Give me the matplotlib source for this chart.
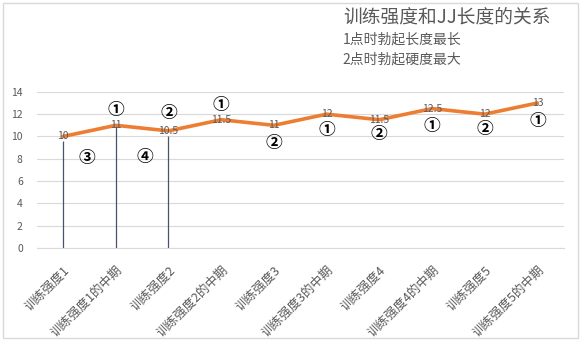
import matplotlib
matplotlib.use("Agg")
import matplotlib.pyplot as plt
from matplotlib.patches import Rectangle

plt.rcParams["font.family"] = ["Noto Sans CJK SC", "DejaVu Sans"]

CATEGORIES = ["训练强度1", "训练强度1的中期", "训练强度2", "训练强度2的中期", "训练强度3",
              "训练强度3的中期", "训练强度4", "训练强度4的中期", "训练强度5", "训练强度5的中期"]
VALUES = [10, 11, 10.5, 11.5, 11, 12, 11.5, 12.5, 12, 13]
VALUE_LABELS = ["10", "11", "10.5", "11.5", "11", "12", "11.5", "12.5", "12", "13"]

# thin vertical lines under the first three points
VLINE_X = [0, 1, 2]
VLINE_TOP = [9.6, 11.0, 10.0]

# hand-written circled marks: (x in category units, y in value units, text)
MARK_X = [1, 2, 3, 4, 0.45, 1.55, 5, 6, 7, 8, 9]
MARK_Y = [12.4, 12.1, 12.8, 9.4, 8.1, 8.2, 10.6, 10.2, 10.95, 10.7, 11.4]
MARK_TEXT = ["①", "②", "①", "②", "③", "④", "①", "②", "①", "②", "①"]

TITLE = "训练强度和JJ长度的关系"
NOTES = ["1点时勃起长度最长", "2点时勃起硬度最大"]

fig = plt.figure(figsize=(5.83, 3.44), dpi=100)
ax = fig.add_axes([0.063, 0.279, 0.904, 0.454])

x = list(range(len(CATEGORIES)))
ax.vlines(VLINE_X, 0, VLINE_TOP, color="#44546A", linewidth=0.9, zorder=2)
ax.plot(x, VALUES, color="#ED7D31", linewidth=2.6, zorder=3, solid_capstyle="round")
for xi, v, lab in zip(x, VALUES, VALUE_LABELS):
    ax.text(xi, v, lab, ha="center", va="center", fontsize=7.5, color="#595959", zorder=4)

for mx, my, mt in zip(MARK_X, MARK_Y, MARK_TEXT):
    ax.text(mx, my, mt, ha="center", va="center", fontsize=12, color="black",
            fontweight="bold", zorder=5)

ax.set_xlim(-0.5, 9.5)
ax.set_ylim(0, 14)
ax.set_yticks(range(0, 15, 2))
ax.set_xticks(x)
ax.set_xticklabels(CATEGORIES, rotation=45, ha="right", rotation_mode="anchor",
                   fontsize=9, color="#595959")
ax.tick_params(axis="y", length=0, labelsize=7.5, labelcolor="#595959", pad=10)
ax.tick_params(axis="x", length=0, pad=11)
ax.grid(axis="y", color="#D9D9D9", linewidth=0.8)
ax.set_axisbelow(True)
for side in ["top", "right", "left"]:
    ax.spines[side].set_visible(False)
ax.spines["bottom"].set_color("#D9D9D9")

fig.text(0.588, 0.950, TITLE, fontsize=13.5, color="#595959", ha="left", va="center")
fig.text(0.588, 0.884, NOTES[0], fontsize=10, color="#595959", ha="left", va="center")
fig.text(0.588, 0.826, NOTES[1], fontsize=10, color="#595959", ha="left", va="center")

fig.patches.append(Rectangle((0.006, 0.017), 0.985, 0.974, transform=fig.transFigure,
                             fill=False, edgecolor="#D9D9D9", linewidth=1))

fig.savefig("out.png", dpi=100)
